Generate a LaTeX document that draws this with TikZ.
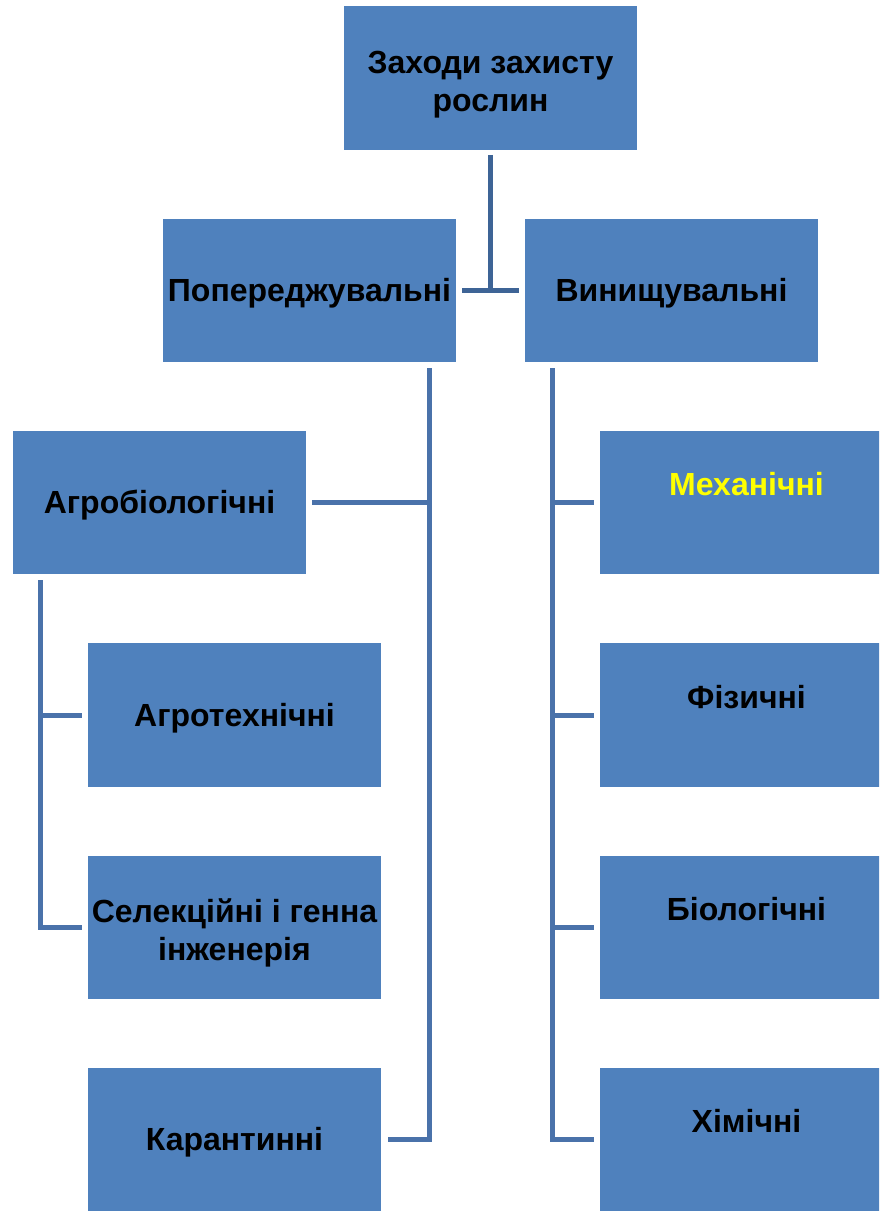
\documentclass[tikz,border=0pt]{standalone}
\usepackage{fontspec}
\setmainfont{Liberation Sans}
\definecolor{boxblue}{HTML}{4F81BD}
\definecolor{lineblue}{HTML}{4A72AA}
\definecolor{topline}{HTML}{3E6496}
\definecolor{ylw}{HTML}{FFFF00}
\begin{document}
\begin{tikzpicture}[x=1pt,y=-1pt,
  box/.style={rectangle,fill=boxblue,minimum width=293pt,minimum height=143.5pt,inner sep=0pt,outer sep=0pt,
    font=\fontsize{32}{38}\selectfont\bfseries,align=center,text=black,text height=22.9pt,text depth=0pt},
  twoline/.style={text height=66pt,text depth=0pt},
  lbl/.style={inner sep=0pt,font=\fontsize{32}{38}\selectfont\bfseries,align=center,text height=22.9pt,text depth=0pt},
  conn/.style={draw=lineblue,line width=5pt},
  topconn/.style={draw=topline,line width=5pt}]
\useasboundingbox (0,0) rectangle (879,1211);
\clip (0,0) rectangle (879,1211);
% boxes
\node[box,twoline] (top) at (490.5,78) {Заходи захисту\\рослин};
\node[box] (prev) at (309.5,290.5) {Попереджувальні};
\node[box] (dest) at (671.5,290.5) {Винищувальні};
\node[box] (agrobio) at (159.5,502.5) {Агробіологічні};
\node[box] (agrotech) at (234.5,715) {Агротехнічні};
\node[box,twoline] (sel) at (234.5,927.5) {Селекційні і генна\\інженерія};
\node[box] (quar) at (234.5,1139.5) {Карантинні};
\node[box] (mech) at (746.5,502.5) {};
\node[box] (phys) at (746.5,715) {};
\node[box] (biol) at (746.5,927.5) {};
\node[box] (chem) at (746.5,1139.5) {};
\node[lbl,text=ylw] (mechT) at ([yshift=18pt]mech.center) {Механічні};
\node[lbl] (physT) at ([yshift=18pt]phys.center) {Фізичні};
\node[lbl] (biolT) at ([yshift=18pt]biol.center) {Біологічні};
\node[lbl] (chemT) at ([yshift=18pt]chem.center) {Хімічні};
% top connector
\coordinate (tj) at (top.south |- prev.east);
\draw[topconn] ([yshift=-5pt]top.south) -- (tj);
\draw[topconn] ([xshift=6pt]prev.east) -- ([xshift=-6pt]dest.west);
% left trunk (Попереджувальні)
\coordinate (lt) at ([xshift=-27pt]prev.south east);
\coordinate (ltEnd) at (lt |- quar.east);
\draw[conn] ([yshift=-6pt]lt) -- (ltEnd) -- ([xshift=7pt]quar.east);
\draw[conn] ([xshift=6pt]agrobio.east) -- (lt |- agrobio.east);
% agrobio trunk
\coordinate (at) at ([xshift=27pt]agrobio.south west);
\coordinate (atEnd) at (at |- sel.west);
\draw[conn] ([yshift=-6pt]at) -- (atEnd) -- ([xshift=-6pt]sel.west);
\draw[conn] (at |- agrotech.west) -- ([xshift=-6pt]agrotech.west);
% right trunk (Винищувальні)
\coordinate (rt) at ([xshift=27pt]dest.south west);
\coordinate (rtEnd) at (rt |- chem.west);
\draw[conn] ([yshift=-6pt]rt) -- (rtEnd) -- ([xshift=-6pt]chem.west);
\draw[conn] (rt |- mech.west) -- ([xshift=-6pt]mech.west);
\draw[conn] (rt |- phys.west) -- ([xshift=-6pt]phys.west);
\draw[conn] (rt |- biol.west) -- ([xshift=-6pt]biol.west);
\end{tikzpicture}
\end{document}
